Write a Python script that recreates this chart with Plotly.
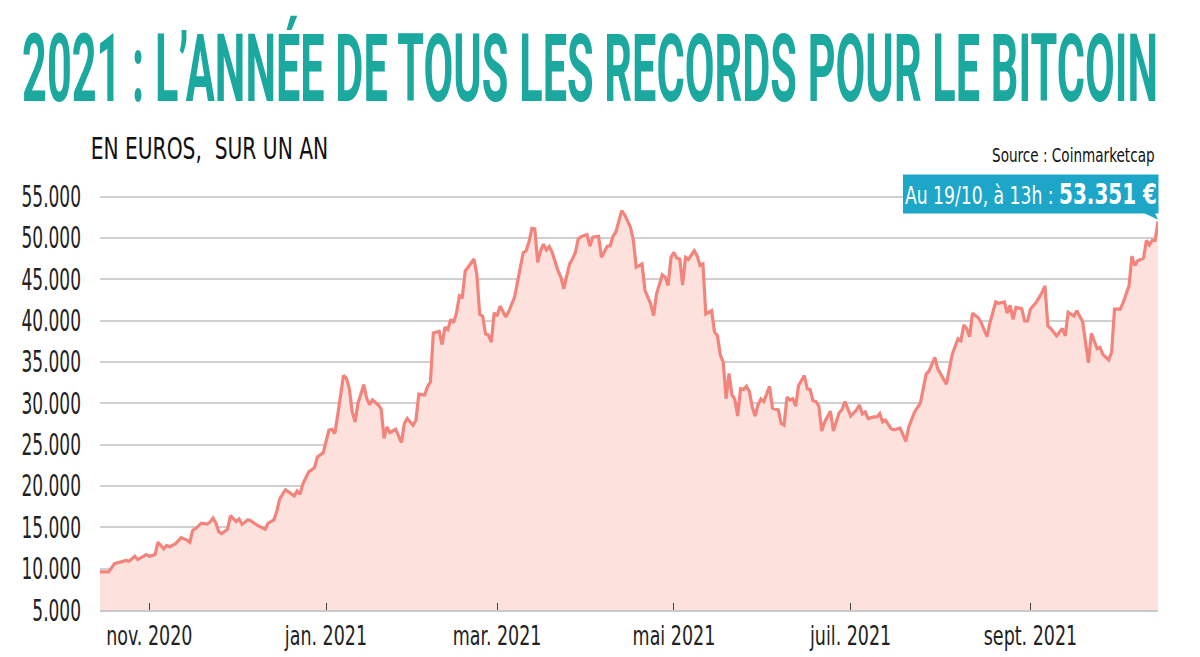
import plotly.graph_objects as go

dates = [
    "2020-10-15","2020-10-18","2020-10-20","2020-10-22","2020-10-24","2020-10-25","2020-10-27","2020-10-28","2020-10-29","2020-10-31",
    "2020-11-01","2020-11-03","2020-11-04","2020-11-06","2020-11-07","2020-11-08","2020-11-10","2020-11-12","2020-11-14","2020-11-15",
    "2020-11-16","2020-11-17","2020-11-19","2020-11-21","2020-11-22","2020-11-23","2020-11-24","2020-11-25","2020-11-26","2020-11-28","2020-11-29",
    "2020-12-01","2020-12-02","2020-12-03","2020-12-05","2020-12-06","2020-12-08","2020-12-10","2020-12-11","2020-12-12","2020-12-14",
    "2020-12-15","2020-12-16","2020-12-18","2020-12-20","2020-12-21","2020-12-22","2020-12-23","2020-12-24","2020-12-26","2020-12-28","2020-12-29","2020-12-31",
    "2021-01-02","2021-01-03","2021-01-04","2021-01-05","2021-01-07","2021-01-08","2021-01-09","2021-01-10","2021-01-11","2021-01-12",
    "2021-01-14","2021-01-15","2021-01-16","2021-01-17","2021-01-19","2021-01-20","2021-01-21","2021-01-22","2021-01-23","2021-01-24",
    "2021-01-25","2021-01-27","2021-01-28","2021-01-29","2021-01-31",
    "2021-02-01","2021-02-02","2021-02-04","2021-02-05","2021-02-06","2021-02-07","2021-02-09","2021-02-10","2021-02-11","2021-02-12",
    "2021-02-13","2021-02-14","2021-02-15","2021-02-16","2021-02-17","2021-02-18","2021-02-19","2021-02-21","2021-02-22","2021-02-23",
    "2021-02-24","2021-02-25","2021-02-26","2021-02-27","2021-02-28",
    "2021-03-01","2021-03-02","2021-03-04","2021-03-05","2021-03-07","2021-03-08","2021-03-09","2021-03-10","2021-03-11","2021-03-12",
    "2021-03-13","2021-03-14","2021-03-15","2021-03-16","2021-03-17","2021-03-18","2021-03-19","2021-03-20","2021-03-22","2021-03-23",
    "2021-03-24","2021-03-26","2021-03-27","2021-03-28","2021-03-29","2021-03-30",
    "2021-04-01","2021-04-02","2021-04-03","2021-04-05","2021-04-06","2021-04-08","2021-04-09","2021-04-10","2021-04-11","2021-04-12",
    "2021-04-13","2021-04-14","2021-04-16","2021-04-17","2021-04-18","2021-04-20","2021-04-21","2021-04-23","2021-04-24","2021-04-25",
    "2021-04-27","2021-04-28","2021-04-29","2021-04-30",
    "2021-05-01","2021-05-02","2021-05-03","2021-05-04","2021-05-05","2021-05-06","2021-05-08","2021-05-09","2021-05-10","2021-05-11",
    "2021-05-12","2021-05-14","2021-05-15","2021-05-16","2021-05-17","2021-05-18","2021-05-19","2021-05-20","2021-05-21","2021-05-22",
    "2021-05-23","2021-05-24","2021-05-25","2021-05-26","2021-05-27","2021-05-28","2021-05-29","2021-05-30","2021-05-31",
    "2021-06-01","2021-06-02","2021-06-03","2021-06-04","2021-06-06","2021-06-07","2021-06-08","2021-06-09","2021-06-10","2021-06-11",
    "2021-06-12","2021-06-13","2021-06-15","2021-06-16","2021-06-17","2021-06-18","2021-06-19","2021-06-20","2021-06-21","2021-06-22",
    "2021-06-24","2021-06-25","2021-06-27","2021-06-28","2021-06-29",
    "2021-07-01","2021-07-03","2021-07-04","2021-07-05","2021-07-06","2021-07-07","2021-07-09","2021-07-10","2021-07-11","2021-07-12",
    "2021-07-13","2021-07-15","2021-07-16","2021-07-18","2021-07-19","2021-07-20","2021-07-21","2021-07-22","2021-07-23","2021-07-25",
    "2021-07-26","2021-07-27","2021-07-28","2021-07-30","2021-07-31",
    "2021-08-02","2021-08-03","2021-08-04","2021-08-05","2021-08-07","2021-08-08","2021-08-09","2021-08-10","2021-08-11","2021-08-12",
    "2021-08-14","2021-08-15","2021-08-17","2021-08-18","2021-08-20","2021-08-21","2021-08-23","2021-08-24","2021-08-25","2021-08-26",
    "2021-08-27","2021-08-29","2021-08-30","2021-08-31",
    "2021-09-01","2021-09-02","2021-09-03","2021-09-05","2021-09-06","2021-09-07","2021-09-08","2021-09-10","2021-09-12","2021-09-13",
    "2021-09-14","2021-09-16","2021-09-17","2021-09-19","2021-09-21","2021-09-22","2021-09-24","2021-09-25","2021-09-26","2021-09-28",
    "2021-09-29","2021-09-30",
    "2021-10-02","2021-10-03","2021-10-05","2021-10-06","2021-10-07","2021-10-08","2021-10-10","2021-10-11","2021-10-12","2021-10-13",
    "2021-10-14","2021-10-15",
]

prices_eur = [
    9600,9600,10600,10800,11000,10900,11500,11100,11300,11700,
    11500,11700,13200,12400,12800,12650,13000,13750,13450,13200,
    14650,14850,15500,15400,15650,16100,15500,14450,14250,14750,16400,
    15700,16000,15350,15900,15800,15300,14950,14750,15500,15900,
    16950,18450,19550,19000,18800,19400,19000,20250,21700,22200,23500,24000,
    26750,26850,26350,28550,33350,33050,31800,29000,27750,30000,
    32250,30600,29850,30400,29800,29300,25750,27150,26450,26650,
    26850,25250,27550,28150,27350,
    27950,31100,31000,32000,32600,38500,38700,37100,39200,38900,
    40150,39750,40950,43000,42850,46000,46450,47450,45600,40750,
    40550,38400,38250,37400,40950,
    40550,41750,40450,41100,42800,44600,46650,48200,48450,49500,
    51150,51100,47050,48450,49250,48550,48950,48250,46050,45250,
    43850,46850,47450,48250,49900,50150,
    50400,49000,50100,50200,47650,49000,49050,50200,50750,52100,
    53300,52800,51300,49700,46450,46850,43650,42000,40600,43250,
    45550,45250,44250,47650,
    48250,47550,47450,44300,47650,47400,48450,47850,46650,46850,
    40800,41200,38600,38200,35850,34950,30550,33600,31050,30500,
    28450,31750,31650,32050,31450,29600,28450,29800,30500,
    30200,31050,32050,29400,29200,27550,27350,30750,30400,30550,
    29650,32150,33350,31750,31650,30300,30200,29650,26650,27750,
    29050,26650,28850,29250,30200,
    28450,29200,29800,28700,28950,28150,28350,28350,28750,27750,
    27950,26900,26800,27000,26200,25400,27100,28150,28950,30000,
    31850,33500,33900,35550,34200,
    33000,32300,34100,35900,37800,37550,39450,39050,38050,40900,
    40350,39750,38050,39700,42250,42100,42250,40900,41850,40150,
    41600,41450,39950,39950,
    41400,41850,42200,43400,44200,39350,39050,38150,39050,38150,
    41000,40550,41200,39850,34900,38450,36600,36750,35900,35250,
    36150,41400,
    41400,42200,44200,47800,46650,47250,47550,49700,49150,49700,
    49700,52000,
]

y_ticks = [5000, 10000, 15000, 20000, 25000, 30000, 35000, 40000, 45000, 50000, 55000]
x_tick_dates = ["2020-11-01", "2021-01-01", "2021-03-01", "2021-05-01", "2021-07-01", "2021-09-01"]
x_tick_labels = ["nov. 2020", "jan. 2021", "mar. 2021", "mai 2021", "juil. 2021", "sept. 2021"]

title_text = "2021 : L’ANNÉE DE TOUS LES RECORDS POUR LE BITCOIN"
subtitle_text = "EN EUROS,  SUR UN AN"
source_text = "Source : Coinmarketcap"
callout_text = "Au 19/10, à 13h : <span style='font-size:29px'><b>53.351 €</b></span>"

COND = "DejaVu Sans Condensed, Liberation Sans Narrow, Roboto, sans-serif"
TEAL = "#1aa89f"
BOX = "#1ea6c9"
LINE = "#f3847c"
FILL = "#fde1dd"

fig = go.Figure()
fig.add_trace(go.Scatter(
    x=dates, y=prices_eur, mode="lines",
    line=dict(color=LINE, width=3.2),
    fill="tozeroy", fillcolor=FILL,
    hoverinfo="skip",
))

fig.update_layout(
    width=1200, height=657,
    margin=dict(l=100, r=42, t=185, b=47, autoexpand=False),
    paper_bgcolor="white", plot_bgcolor="white",
    showlegend=False,
    separators=",.",
    title=dict(
        text=title_text, x=0.4915, xanchor="center", y=0.897, yanchor="middle",
        xref="container", yref="container",
        font=dict(family="Roboto, DejaVu Sans Condensed, sans-serif", size=94, color=TEAL, weight=700),
    ),
    xaxis=dict(
        range=["2020-10-15", "2021-10-15"],
        tickvals=x_tick_dates, ticktext=x_tick_labels,
        showgrid=False, zeroline=False, automargin=False,
        ticks="inside", ticklen=7, tickwidth=1.2, tickcolor="#444",
        showline=True, linecolor="#c9c9c9", linewidth=1.5,
        tickfont=dict(family=COND, size=27, color="#222"),
        ticklabelstandoff=1,
    ),
    yaxis=dict(
        range=[5000, 56400],
        tickvals=y_ticks, tickformat=",.0f",
        showgrid=True, gridcolor="#cfcfcf", gridwidth=1.5,
        zeroline=False, showline=False, ticks="", automargin=False,
        tickfont=dict(family=COND, size=30, color="#222"),
        ticklabelstandoff=18,
    ),
)

fig.add_annotation(
    text=subtitle_text, xref="paper", yref="paper",
    x=-0.0105, y=1.087, xanchor="left", yanchor="middle", showarrow=False,
    font=dict(family=COND, size=30, color="#111"),
)
fig.add_annotation(
    text=source_text, xref="paper", yref="paper",
    x=0.998, y=1.071, xanchor="right", yanchor="middle", showarrow=False,
    font=dict(family=COND, size=20, color="#111"),
)
fig.add_annotation(
    text=callout_text, xref="paper", yref="paper",
    x=1.001, y=0.979, xanchor="right", yanchor="middle", showarrow=False,
    bgcolor=BOX, borderpad=2,
    font=dict(family=COND, size=25, color="white"),
)
fig.add_shape(
    type="path", xref="paper", yref="paper",
    path="M 0.982 0.94 L 0.996 0.94 L 1.0 0.918 Z",
    fillcolor=BOX, line=dict(width=0),
)

# the reference uses a very narrow typeface: condense the texts horizontally
post_script = """
(function(){
  var gd = document.getElementById('{plot_id}');
  function condense(el, s, mode, targetX){
    if (!el) return;
    var prev = el.getAttribute('transform') || '';
    var svgR = el.ownerSVGElement.getBoundingClientRect();
    var r = el.getBoundingClientRect();
    if (!r.width) return;
    if (s === null) s = 1136 / r.width;
    var left = r.left - svgR.left;
    var ax = mode === 'left' ? left : (mode === 'right' ? left + r.width : left + r.width / 2);
    var m = el.parentNode.getCTM ? el.parentNode.getCTM() : null;
    var off = m ? m.e : 0;
    var axp = ax - off;
    var dest = (targetX === undefined) ? axp : targetX - off;
    el.setAttribute('transform', 'translate(' + dest + ',0) scale(' + s + ',1) translate(' + (-axp) + ',0) ' + prev);
  }
  condense(gd.querySelector('text.gtitle'), null, 'center', 590);
  gd.querySelectorAll('.ytick text').forEach(function(t){ condense(t, 0.63, 'right'); });
  gd.querySelectorAll('.xtick text').forEach(function(t){ condense(t, 0.72, 'center'); });
  var anns = gd.querySelectorAll('g.annotation');
  var cfg = [[0.75, 'left'], [0.755, 'right'], [0.765, 'right']];
  anns.forEach(function(a, i){
    var g = a.querySelector('g.annotation-text-g') || a;
    if (cfg[i]) condense(g, cfg[i][0], cfg[i][1]);
  });
})();
"""

fig.write_html("out.html", post_script=post_script)
